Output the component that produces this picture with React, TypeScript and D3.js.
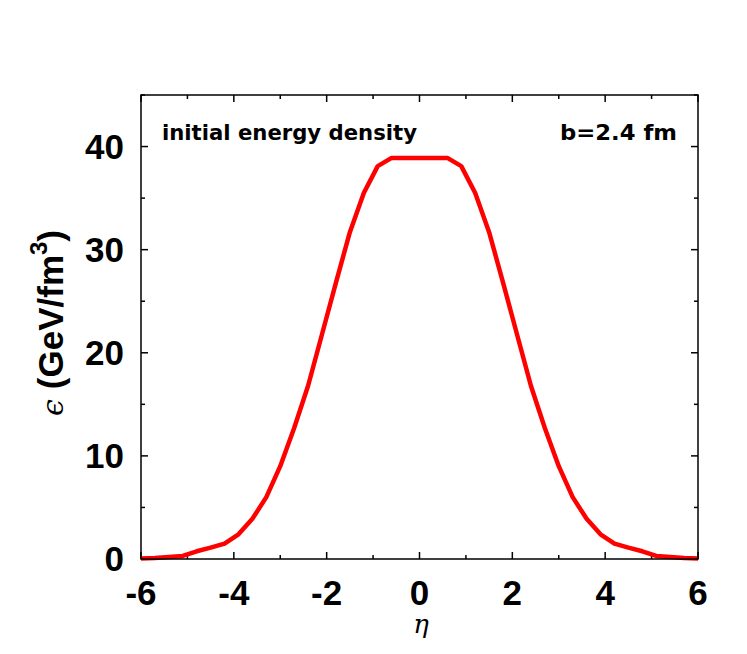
import React from "react";
import * as d3 from "d3";

const etaLeft = [-6.0, -5.7, -5.4, -5.1, -4.8, -4.5, -4.2, -3.9, -3.6, -3.3, -3.0, -2.7, -2.4, -2.1, -1.8, -1.5, -1.2, -0.9, -0.6, -0.3, 0.0];
const epsLeft = [0.05, 0.1, 0.2, 0.3, 0.75, 1.1, 1.5, 2.4, 3.9, 6.0, 9.0, 12.7, 16.8, 21.8, 26.8, 31.7, 35.5, 38.1, 38.9, 38.9, 38.9];

const xTicks = [-6, -4, -2, 0, 2, 4, 6];
const xMinor = [-5, -3, -1, 1, 3, 5];
const yTicks = [0, 10, 20, 30, 40];
const yMinor = [5, 15, 25, 35, 45];

const W = 747, H = 654;
const L = 141, R = 698, T = 95, B = 559;

export default function App() {
  const x = d3.scaleLinear().domain([-6, 6]).range([L, R]);
  const y = d3.scaleLinear().domain([0, 45]).range([B, T]);
  const pts: [number, number][] = [];
  etaLeft.forEach((e, i) => pts.push([e, epsLeft[i]]));
  for (let i = etaLeft.length - 2; i >= 0; i--) pts.push([-etaLeft[i], epsLeft[i]]);
  const line = d3.line<[number, number]>().x(d => x(d[0])).y(d => y(d[1]));
  const numFont = "'Liberation Sans', Arial, sans-serif";
  const maj = 7, mnr = 4;
  return (
    <svg width={W} height={H} style={{ position: "absolute", left: 0, top: 0, background: "#fff" }}>
      <rect x={0} y={0} width={W} height={H} fill="#fff" />
      {xTicks.map(t => (
        <g key={"xt" + t}>
          <line x1={x(t)} x2={x(t)} y1={B} y2={B - maj} stroke="#000" strokeWidth={1.5} />
          <line x1={x(t)} x2={x(t)} y1={T} y2={T + maj} stroke="#000" strokeWidth={1.5} />
          <text x={x(t)} y={605} textAnchor="middle" fontFamily={numFont} fontWeight="bold" fontSize={35}>{t < 0 ? "-" + Math.abs(t) : String(t)}</text>
        </g>
      ))}
      {xMinor.map(t => (
        <g key={"xm" + t}>
          <line x1={x(t)} x2={x(t)} y1={B} y2={B - mnr} stroke="#000" strokeWidth={1.5} />
          <line x1={x(t)} x2={x(t)} y1={T} y2={T + mnr} stroke="#000" strokeWidth={1.5} />
        </g>
      ))}
      {yTicks.map(t => (
        <g key={"yt" + t}>
          <line x1={L} x2={L + maj} y1={y(t)} y2={y(t)} stroke="#000" strokeWidth={1.5} />
          <line x1={R} x2={R - maj} y1={y(t)} y2={y(t)} stroke="#000" strokeWidth={1.5} />
          <text x={124} y={y(t) + 12} textAnchor="end" fontFamily={numFont} fontWeight="bold" fontSize={35}>{t}</text>
        </g>
      ))}
      {yMinor.map(t => (
        <g key={"ym" + t}>
          <line x1={L} x2={L + mnr} y1={y(t)} y2={y(t)} stroke="#000" strokeWidth={1.5} />
          <line x1={R} x2={R - mnr} y1={y(t)} y2={y(t)} stroke="#000" strokeWidth={1.5} />
        </g>
      ))}
      <path d={line(pts) || ""} fill="none" stroke="#ff0000" strokeWidth={4.5} strokeLinejoin="round" />
      <rect x={L} y={T} width={R - L} height={B - T} fill="none" stroke="#000" strokeWidth={1.5} />
      <text x={162} y={140} fontFamily="'DejaVu Sans', sans-serif" fontWeight="bold" fontSize={21} textLength={255} lengthAdjust="spacingAndGlyphs">initial energy density</text>
      <text x={560} y={140} fontFamily="'DejaVu Sans', sans-serif" fontWeight="bold" fontSize={21} textLength={117} lengthAdjust="spacingAndGlyphs">b=2.4 fm</text>
      <text x={421} y={633} textAnchor="middle" fontFamily="'DejaVu Serif', serif" fontStyle="italic" fontSize={26}>η</text>
      <g transform="translate(63,416) rotate(-90)">
        <text fontSize={35}>
          <tspan fontFamily="'DejaVu Serif', serif" fontStyle="italic" fontSize={30}>ϵ</tspan>
          <tspan fontFamily={numFont} fontWeight="bold" dx={10}>(GeV/fm</tspan>
          <tspan fontFamily={numFont} fontWeight="bold" fontSize={24} dy={-16}>3</tspan>
          <tspan fontFamily={numFont} fontWeight="bold" dy={16}>)</tspan>
        </text>
      </g>
    </svg>
  );
}
